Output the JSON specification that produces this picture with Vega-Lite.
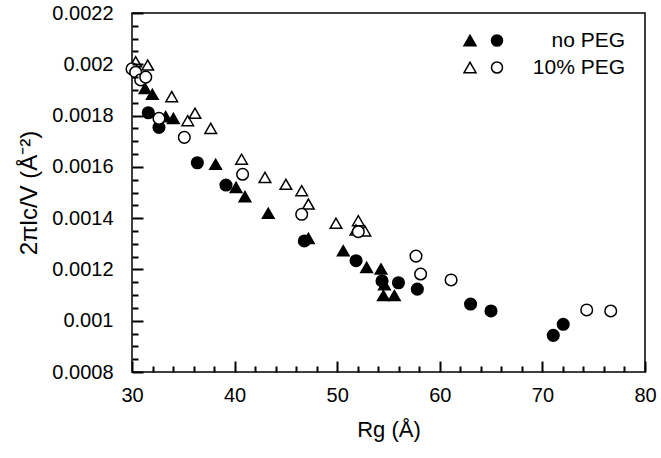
{
  "$schema": "https://vega.github.io/schema/vega-lite/v6.json",
  "width": 513,
  "height": 359,
  "autosize": {"type": "none"},
  "padding": {"left": 132, "top": 13, "right": 16, "bottom": 86},
  "background": "white",
  "config": {
    "view": {"stroke": "black", "strokeWidth": 1.5},
    "font": "Liberation Sans"
  },
  "data": {
    "values": [
      {"rg": 31.27, "v": 0.001906, "group": "no PEG", "marker": "triangle"},
      {"rg": 31.98, "v": 0.001883, "group": "no PEG", "marker": "triangle"},
      {"rg": 33.28, "v": 0.001796, "group": "no PEG", "marker": "triangle"},
      {"rg": 34.03, "v": 0.001789, "group": "no PEG", "marker": "triangle"},
      {"rg": 38.15, "v": 0.00161, "group": "no PEG", "marker": "triangle"},
      {"rg": 40.14, "v": 0.00152, "group": "no PEG", "marker": "triangle"},
      {"rg": 41.01, "v": 0.001484, "group": "no PEG", "marker": "triangle"},
      {"rg": 43.28, "v": 0.001419, "group": "no PEG", "marker": "triangle"},
      {"rg": 47.19, "v": 0.001321, "group": "no PEG", "marker": "triangle"},
      {"rg": 50.59, "v": 0.001273, "group": "no PEG", "marker": "triangle"},
      {"rg": 52.87, "v": 0.001208, "group": "no PEG", "marker": "triangle"},
      {"rg": 54.27, "v": 0.001202, "group": "no PEG", "marker": "triangle"},
      {"rg": 54.6, "v": 0.00114, "group": "no PEG", "marker": "triangle"},
      {"rg": 54.5, "v": 0.001098, "group": "no PEG", "marker": "triangle"},
      {"rg": 55.57, "v": 0.001098, "group": "no PEG", "marker": "triangle"},
      {"rg": 31.59, "v": 0.001811, "group": "no PEG", "marker": "circle"},
      {"rg": 32.63, "v": 0.001754, "group": "no PEG", "marker": "circle"},
      {"rg": 36.37, "v": 0.001616, "group": "no PEG", "marker": "circle"},
      {"rg": 39.16, "v": 0.001529, "group": "no PEG", "marker": "circle"},
      {"rg": 46.8, "v": 0.001311, "group": "no PEG", "marker": "circle"},
      {"rg": 51.84, "v": 0.001234, "group": "no PEG", "marker": "circle"},
      {"rg": 54.37, "v": 0.001155, "group": "no PEG", "marker": "circle"},
      {"rg": 55.97, "v": 0.001148, "group": "no PEG", "marker": "circle"},
      {"rg": 57.81, "v": 0.001123, "group": "no PEG", "marker": "circle"},
      {"rg": 63.0, "v": 0.001065, "group": "no PEG", "marker": "circle"},
      {"rg": 64.99, "v": 0.001038, "group": "no PEG", "marker": "circle"},
      {"rg": 71.06, "v": 0.000943, "group": "no PEG", "marker": "circle"},
      {"rg": 72.03, "v": 0.000986, "group": "no PEG", "marker": "circle"},
      {"rg": 30.36, "v": 0.00201, "group": "10% PEG", "marker": "triangle"},
      {"rg": 31.53, "v": 0.001997, "group": "10% PEG", "marker": "triangle"},
      {"rg": 33.87, "v": 0.001874, "group": "10% PEG", "marker": "triangle"},
      {"rg": 35.43, "v": 0.00178, "group": "10% PEG", "marker": "triangle"},
      {"rg": 36.14, "v": 0.001809, "group": "10% PEG", "marker": "triangle"},
      {"rg": 37.67, "v": 0.00175, "group": "10% PEG", "marker": "triangle"},
      {"rg": 40.68, "v": 0.00163, "group": "10% PEG", "marker": "triangle"},
      {"rg": 42.96, "v": 0.001559, "group": "10% PEG", "marker": "triangle"},
      {"rg": 45.0, "v": 0.001532, "group": "10% PEG", "marker": "triangle"},
      {"rg": 46.54, "v": 0.001507, "group": "10% PEG", "marker": "triangle"},
      {"rg": 47.19, "v": 0.001455, "group": "10% PEG", "marker": "triangle"},
      {"rg": 49.88, "v": 0.00138, "group": "10% PEG", "marker": "triangle"},
      {"rg": 52.06, "v": 0.00139, "group": "10% PEG", "marker": "triangle"},
      {"rg": 51.83, "v": 0.001354, "group": "10% PEG", "marker": "triangle"},
      {"rg": 52.7, "v": 0.00135, "group": "10% PEG", "marker": "triangle"},
      {"rg": 30.0, "v": 0.001982, "group": "10% PEG", "marker": "circle"},
      {"rg": 30.36, "v": 0.001969, "group": "10% PEG", "marker": "circle"},
      {"rg": 30.85, "v": 0.001939, "group": "10% PEG", "marker": "circle"},
      {"rg": 31.34, "v": 0.00195, "group": "10% PEG", "marker": "circle"},
      {"rg": 32.63, "v": 0.001789, "group": "10% PEG", "marker": "circle"},
      {"rg": 35.1, "v": 0.001715, "group": "10% PEG", "marker": "circle"},
      {"rg": 40.78, "v": 0.001571, "group": "10% PEG", "marker": "circle"},
      {"rg": 46.54, "v": 0.001415, "group": "10% PEG", "marker": "circle"},
      {"rg": 52.06, "v": 0.001347, "group": "10% PEG", "marker": "circle"},
      {"rg": 57.68, "v": 0.001252, "group": "10% PEG", "marker": "circle"},
      {"rg": 58.13, "v": 0.001182, "group": "10% PEG", "marker": "circle"},
      {"rg": 61.1, "v": 0.001159, "group": "10% PEG", "marker": "circle"},
      {"rg": 74.32, "v": 0.001042, "group": "10% PEG", "marker": "circle"},
      {"rg": 76.66, "v": 0.001038, "group": "10% PEG", "marker": "circle"}
    ]
  },
  "resolve": {"axis": {"x": "independent", "y": "independent"}},
  "layer": [
    {
      "mark": {"type": "point", "opacity": 0, "size": 1},
      "encoding": {
        "x": {
          "field": "rg", "type": "quantitative",
          "scale": {"domain": [30, 80], "nice": false, "zero": false},
          "axis": {
            "orient": "bottom",
            "values": [32,34,36,38,42,44,46,48,52,54,56,58,62,64,66,68,72,74,76,78],
            "labels": false,
            "title": null,
            "domain": false,
            "gridOpacity": 0,
            "zindex": 1,
            "tickSize": -6,
            "tickColor": "#000",
            "tickWidth": 2
          }
        },
        "y": {
          "field": "v", "type": "quantitative",
          "scale": {"domain": [0.0008, 0.0022], "nice": false, "zero": false},
          "axis": {
            "orient": "left",
            "values": [0.00085,0.0009,0.00095,0.00105,0.0011,0.00115,0.00125,0.0013,0.00135,0.00145,0.0015,0.00155,0.00165,0.0017,0.00175,0.00185,0.0019,0.00195,0.00205,0.0021,0.00215],
            "labels": false,
            "title": null,
            "domain": false,
            "gridOpacity": 0,
            "zindex": 1,
            "tickSize": -6,
            "tickColor": "#000",
            "tickWidth": 2
          }
        }
      }
    },
    {
      "mark": {"type": "point", "filled": true, "stroke": "black", "strokeWidth": 1.5, "opacity": 1, "size": 135},
      "encoding": {
        "x": {
          "field": "rg", "type": "quantitative",
          "scale": {"domain": [30, 80], "nice": false, "zero": false},
          "axis": {
            "orient": "bottom",
            "values": [30, 40, 50, 60, 70, 80],
            "format": "d",
            "domain": false,
            "gridOpacity": 0,
            "zindex": 1,
            "labelFlush": false,
            "tickSize": -11,
            "tickColor": "#000",
            "tickWidth": 2,
            "labelFont": "Liberation Sans",
            "labelColor": "black",
            "labelFontSize": 20,
            "labelPadding": 24,
            "title": "Rg (Å)",
            "titleFont": "Liberation Sans",
            "titleColor": "black",
            "titleFontWeight": "normal",
            "titleFontSize": 22,
            "titlePadding": 14
          }
        },
        "y": {
          "field": "v", "type": "quantitative",
          "scale": {"domain": [0.0008, 0.0022], "nice": false, "zero": false},
          "axis": {
            "orient": "left",
            "values": [0.0008, 0.001, 0.0012, 0.0014, 0.0016, 0.0018, 0.002, 0.0022],
            "format": "~g",
            "domain": false,
            "gridOpacity": 0,
            "zindex": 1,
            "tickSize": -11,
            "tickColor": "#000",
            "tickWidth": 2,
            "labelFont": "Liberation Sans",
            "labelColor": "black",
            "labelFontSize": 20,
            "labelPadding": 30,
            "title": "2πlc/V (Å⁻²)",
            "titleFont": "Liberation Sans",
            "titleColor": "black",
            "titleFontWeight": "normal",
            "titleFontSize": 24,
            "titlePadding": 10
          }
        },
        "shape": {
          "field": "marker", "type": "nominal",
          "scale": {"domain": ["triangle", "circle"], "range": ["triangle-up", "circle"]},
          "legend": null
        },
        "fill": {
          "field": "group", "type": "nominal",
          "scale": {"domain": ["no PEG", "10% PEG"], "range": ["black", "white"]},
          "legend": {
            "title": null,
            "orient": "none",
            "legendX": 341,
            "legendY": 17,
            "padding": 0,
            "symbolType": "M-3.25,0.866L-1.25,0.866L-2.25,-0.866Z M1.33,0A0.92,0.92 0 1,1 3.17,0A0.92,0.92 0 1,1 1.33,0Z",
            "symbolSize": 144,
            "symbolStrokeColor": "black",
            "symbolStrokeWidth": 1.5,
            "symbolOpacity": 1,
            "labelAlign": "right",
            "labelOffset": 131,
            "labelFont": "Liberation Sans",
            "labelFontSize": 21,
            "labelColor": "black",
            "labelLimit": 300,
            "rowPadding": 5
          }
        }
      }
    }
  ]
}
